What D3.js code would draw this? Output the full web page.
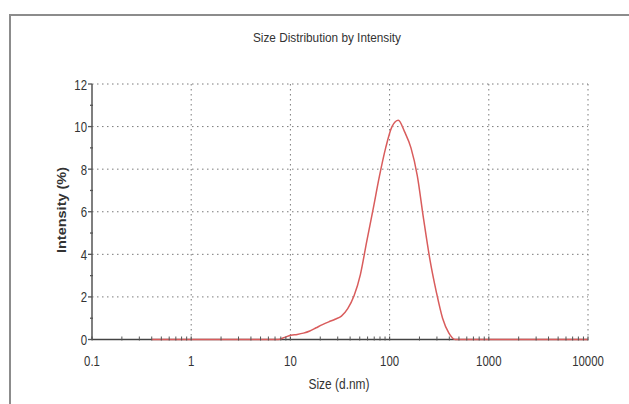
<!DOCTYPE html>
<html>
<head>
<meta charset="utf-8">
<script src="https://cdn.jsdelivr.net/npm/d3@7"></script>
<style>
  html, body { margin: 0; padding: 0; background: #fff; }
  svg { display: block; }
  text { font-family: "Liberation Sans", Arial, sans-serif; fill: #333; }
</style>
</head>
<body>
<svg id="chart" width="629" height="404"></svg>
<script>
// ---- data ----
const sizes = [0.4, 0.4632, 0.5365, 0.6213, 0.7195, 0.8332, 0.9649, 1.117, 1.294, 1.499,
  1.736, 2.01, 2.328, 2.696, 3.122, 3.615, 4.187, 4.849, 5.615, 6.503,
  7.531, 8.721, 10.1, 11.7, 13.54, 15.69, 18.17, 21.04, 24.36, 28.21,
  32.67, 37.84, 43.82, 50.75, 58.77, 68.06, 78.82, 91.28, 105.7, 122.4,
  141.8, 164.2, 190.1, 220.2, 255.0, 295.3, 342.0, 396.1, 458.7, 531.2,
  615.1, 712.4, 825.0, 955.4, 1106, 1281, 1484, 1718, 1990, 2305,
  2669, 3091, 3580, 4145, 4801, 5560, 6439, 7456, 8635, 10000];
const intensity = [0, 0, 0, 0, 0, 0, 0, 0, 0, 0,
  0, 0, 0, 0, 0, 0, 0, 0, 0, 0,
  0, 0.1, 0.2, 0.24, 0.3, 0.4, 0.55, 0.7, 0.83, 0.95,
  1.1, 1.45, 2.05, 3.05, 4.6, 6.1, 7.65, 9.0, 10.0, 10.3,
  9.75, 9.0, 7.7, 5.65, 3.75, 2.25, 1.0, 0.3, 0, 0,
  0, 0, 0, 0, 0, 0, 0, 0, 0, 0,
  0, 0, 0, 0, 0, 0, 0, 0, 0, 0];
const xTicks = [0.1, 1, 10, 100, 1000, 10000];
const xTickLabels = ["0.1", "1", "10", "100", "1000", "10000"];
const yTicks = [0, 2, 4, 6, 8, 10, 12];
const yMinorTicks = [1, 3, 5, 7, 9, 11];
const title = "Size Distribution by Intensity";
const xTitle = "Size (d.nm)";
const yTitle = "Intensity (%)";

// ---- layout ----
const svg = d3.select("#chart");
const pL = 92, pR = 588, pT = 84, pB = 339.5;

const x = d3.scaleLog().domain([0.1, 10000]).range([pL, pR]);
const y = d3.scaleLinear().domain([0, 12]).range([pB, pT]);

// frame
svg.append("line").attr("x1", 10).attr("x2", 629).attr("y1", 15).attr("y2", 15)
  .attr("stroke", "#8c8c8c").attr("stroke-width", 2);
svg.append("line").attr("x1", 10).attr("x2", 10).attr("y1", 14).attr("y2", 404)
  .attr("stroke", "#8c8c8c").attr("stroke-width", 2);

function squeeze(sel, factor) {
  sel.each(function () {
    const w = this.getComputedTextLength();
    d3.select(this).attr("textLength", w * factor).attr("lengthAdjust", "spacingAndGlyphs");
  });
}

// title
svg.append("text").attr("x", 327).attr("y", 42).attr("text-anchor", "middle")
  .style("font-size", "13.5px").attr("textLength", 148).attr("lengthAdjust", "spacingAndGlyphs")
  .text(title);

// grid
const dash = "1.5,3.5";
svg.append("g").selectAll("line").data(yTicks.filter(d => d > 0)).join("line")
  .attr("x1", pL).attr("x2", pR)
  .attr("y1", d => y(d)).attr("y2", d => y(d))
  .attr("stroke", "#7a7a7a").attr("stroke-width", 1).attr("stroke-dasharray", dash);
svg.append("g").selectAll("line").data(xTicks.filter(d => d > 0.1)).join("line")
  .attr("x1", d => x(d)).attr("x2", d => x(d))
  .attr("y1", pT).attr("y2", pB)
  .attr("stroke", "#7a7a7a").attr("stroke-width", 1).attr("stroke-dasharray", dash);

// x axis line
svg.append("line").attr("x1", pL).attr("x2", pR).attr("y1", pB).attr("y2", pB)
  .attr("stroke", "#444").attr("stroke-width", 1.3);

// curve
const pts = sizes.map((s, i) => [s, intensity[i]]);
svg.append("path").datum(pts)
  .attr("fill", "none").attr("stroke", "#d95c5c").attr("stroke-width", 1.5)
  .attr("d", d3.line().x(d => x(d[0])).y(d => y(d[1])).curve(d3.curveMonotoneX));

// y axis
svg.append("line").attr("x1", pL).attr("x2", pL).attr("y1", pT).attr("y2", pB)
  .attr("stroke", "#555").attr("stroke-width", 1.5);
svg.append("g").selectAll("line").data(yTicks).join("line")
  .attr("x1", pL - 4).attr("x2", pL).attr("y1", d => y(d)).attr("y2", d => y(d))
  .attr("stroke", "#555").attr("stroke-width", 1.3);
svg.append("g").selectAll("line").data(yMinorTicks).join("line")
  .attr("x1", pL - 2).attr("x2", pL + 1).attr("y1", d => y(d)).attr("y2", d => y(d))
  .attr("stroke", "#555").attr("stroke-width", 1.3);

// x minor ticks
const xMinor = [];
xTicks.slice(0, -1).forEach(d => { for (let k = 2; k <= 9; k++) xMinor.push(d * k); });
svg.append("g").selectAll("line").data(xMinor).join("line")
  .attr("x1", d => x(d)).attr("x2", d => x(d)).attr("y1", pB - 3).attr("y2", pB + 1)
  .attr("stroke", "#555").attr("stroke-width", 1);
svg.append("g").selectAll("line").data(xTicks).join("line")
  .attr("x1", d => x(d)).attr("x2", d => x(d)).attr("y1", pB - 3).attr("y2", pB + 1)
  .attr("stroke", "#555").attr("stroke-width", 1.2);

// tick labels
svg.append("g").selectAll("text").data(yTicks).join("text")
  .attr("x", 87).attr("y", d => y(d) + 5.5).attr("text-anchor", "end")
  .style("font-size", "15px").text(d => d).call(squeeze, 0.76);
svg.append("g").selectAll("text").data(xTicks).join("text")
  .attr("x", d => x(d)).attr("y", 365.5).attr("text-anchor", "middle")
  .style("font-size", "15px").text((d, i) => xTickLabels[i]).call(squeeze, 0.76);

// axis titles
svg.append("text").attr("x", 339).attr("y", 389).attr("text-anchor", "middle")
  .style("font-size", "15px").attr("textLength", 61).attr("lengthAdjust", "spacingAndGlyphs")
  .text(xTitle);
svg.append("text").attr("transform", "translate(66,210) rotate(-90)").attr("text-anchor", "middle")
  .style("font-size", "12.5px").style("font-weight", "bold")
  .attr("textLength", 86).attr("lengthAdjust", "spacingAndGlyphs")
  .text(yTitle);
</script>
</body>
</html>
